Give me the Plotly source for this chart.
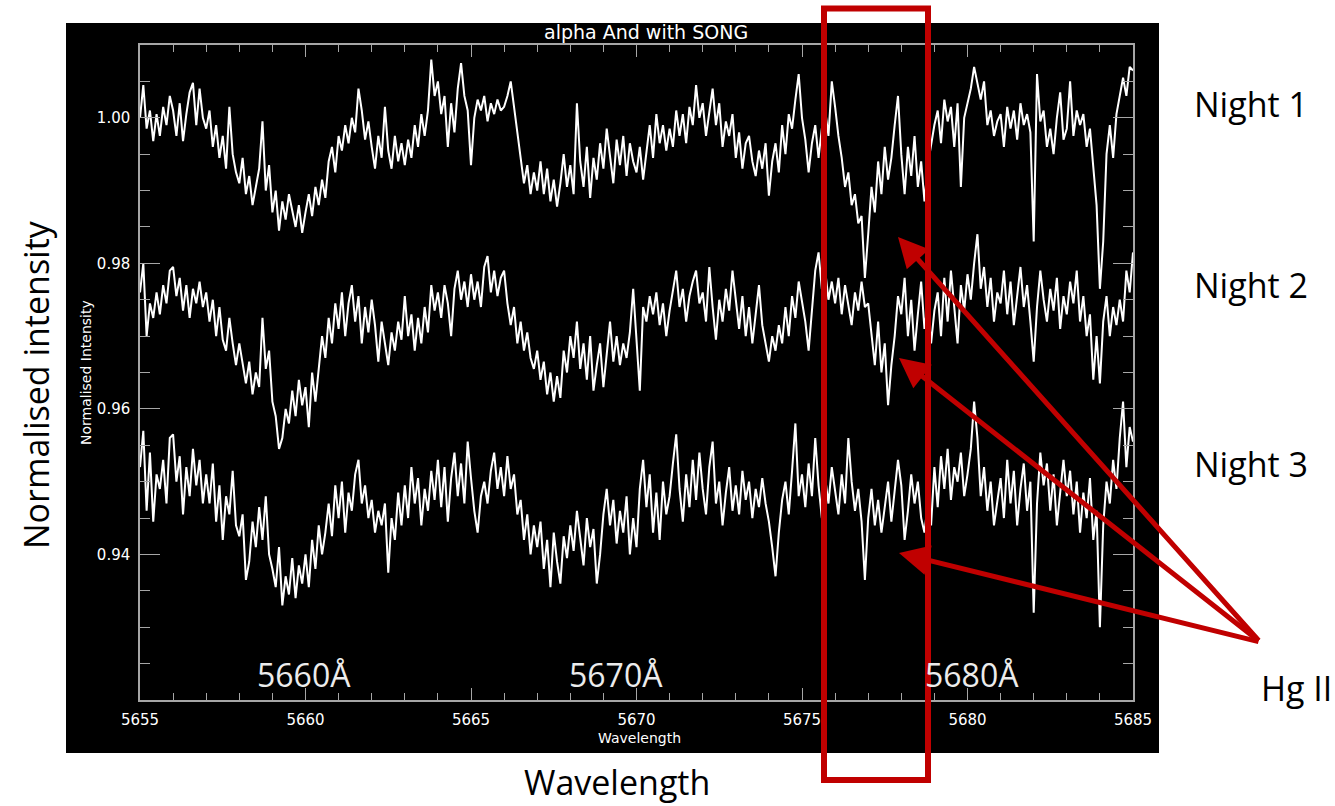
import numpy as np
import plotly.graph_objects as go

W, H = 1335, 806

# ---------------- data ----------------
wl_start, wl_stop, wl_step = 5655.0, 5685.0, 0.1
wavelength = np.round(np.arange(wl_start, wl_stop + wl_step / 2, wl_step), 1)

night1 = [
    1.0000, 1.0045, 0.9985, 1.0010, 0.9968, 1.0005, 0.9975, 1.0015, 0.9990, 1.0030,
    1.0010, 0.9975, 1.0020, 0.9968, 1.0005, 1.0035, 1.0048, 0.9990, 1.0040, 1.0000,
    0.9985, 1.0010, 0.9960, 0.9990, 0.9945, 0.9975, 0.9930, 1.0015, 0.9950, 0.9925,
    0.9910, 0.9945, 0.9895, 0.9920, 0.9880, 0.9905, 0.9930, 0.9995, 0.9900, 0.9935,
    0.9870, 0.9900, 0.9845, 0.9885, 0.9860, 0.9895, 0.9870, 0.9850, 0.9880, 0.9842,
    0.9870, 0.9895, 0.9865, 0.9905, 0.9880, 0.9915, 0.9890, 0.9940, 0.9960, 0.9925,
    0.9975, 0.9955, 0.9990, 0.9965, 1.0000, 0.9980, 1.0040, 1.0010, 0.9970, 0.9995,
    0.9960, 0.9930, 0.9975, 0.9945, 1.0015, 0.9955, 0.9930, 0.9975, 0.9940, 0.9965,
    0.9935, 0.9970, 0.9945, 0.9990, 0.9960, 1.0005, 0.9975, 1.0010, 1.0080, 1.0030,
    1.0050, 1.0005, 1.0030, 0.9960, 1.0020, 0.9980, 1.0040, 1.0075, 1.0030, 1.0010,
    0.9935, 1.0000, 1.0025, 1.0010, 1.0030, 0.9995, 1.0020, 1.0005, 1.0025, 1.0010,
    1.0015, 1.0030, 1.0050, 1.0015, 0.9985, 0.9950, 0.9910, 0.9935, 0.9895, 0.9925,
    0.9900, 0.9940, 0.9895, 0.9930, 0.9885, 0.9915, 0.9878, 0.9910, 0.9950, 0.9905,
    0.9935, 0.9895, 1.0020, 0.9940, 0.9905, 0.9960, 0.9890, 0.9945, 0.9915, 0.9965,
    0.9930, 0.9985, 0.9950, 0.9910, 0.9970, 0.9935, 0.9975, 0.9920, 0.9965, 0.9940,
    0.9925, 0.9960, 0.9915, 0.9955, 0.9990, 0.9945, 1.0005, 0.9965, 0.9990, 0.9955,
    0.9985, 0.9960, 1.0010, 0.9975, 1.0005, 0.9965, 1.0015, 0.9990, 1.0045, 1.0000,
    1.0020, 0.9975, 1.0010, 1.0040, 0.9990, 1.0020, 0.9960, 0.9995, 0.9975, 1.0005,
    0.9945, 0.9980, 0.9930, 0.9965, 0.9975, 0.9940, 0.9920, 0.9955, 0.9930, 0.9965,
    0.9893, 0.9940, 0.9965, 0.9925, 0.9990, 0.9950, 1.0005, 0.9985, 1.0025, 1.0060,
    1.0000, 0.9970, 0.9925, 0.9965, 0.9990, 0.9945, 0.9985, 1.0010, 0.9975, 1.0050,
    1.0015, 0.9975, 0.9945, 0.9905, 0.9925, 0.9880, 0.9895, 0.9855, 0.9865, 0.9780,
    0.9840, 0.9905, 0.9870, 0.9940, 0.9895, 0.9960, 0.9915, 0.9945, 0.9990, 1.0030,
    0.9950, 0.9895, 0.9960, 0.9920, 0.9975, 0.9905, 0.9940, 0.9885, 0.9935, 0.9965,
    0.9990, 1.0010, 0.9965, 1.0025, 0.9995, 1.0015, 0.9960, 1.0020, 0.9905, 1.0000,
    1.0020, 1.0040, 1.0070, 1.0045, 1.0025, 1.0050, 0.9990, 1.0010, 0.9975, 0.9995,
    1.0005, 0.9960, 1.0015, 0.9985, 1.0010, 0.9970, 1.0020, 0.9990, 1.0005, 0.9980,
    0.9830, 1.0060, 0.9995, 1.0010, 0.9960, 0.9985, 0.9950, 1.0000, 1.0035, 0.9970,
    0.9985, 1.0050, 0.9975, 1.0010, 0.9990, 1.0005, 0.9960, 0.9985, 0.9930, 0.9880,
    0.9765, 0.9830, 0.9950, 0.9990, 0.9945, 1.0005, 1.0030, 1.0055, 1.0030, 1.0070,
    1.0065,
]

night2 = [
    0.9760, 0.9800, 0.9700, 0.9745, 0.9725, 0.9760, 0.9730, 0.9770, 0.9745, 0.9790,
    0.9795, 0.9755, 0.9780, 0.9735, 0.9770, 0.9725, 0.9765, 0.9745, 0.9775, 0.9740,
    0.9760, 0.9720, 0.9750, 0.9700, 0.9740, 0.9695, 0.9680, 0.9725, 0.9690, 0.9660,
    0.9690, 0.9660, 0.9635, 0.9665, 0.9620, 0.9650, 0.9630, 0.9725, 0.9655, 0.9680,
    0.9610, 0.9590, 0.9545, 0.9560, 0.9600, 0.9580, 0.9625, 0.9590, 0.9640, 0.9605,
    0.9630, 0.9575, 0.9650, 0.9610, 0.9660, 0.9700, 0.9670, 0.9725, 0.9690, 0.9745,
    0.9710, 0.9760, 0.9700, 0.9745, 0.9770, 0.9720, 0.9755, 0.9690, 0.9740, 0.9705,
    0.9750, 0.9715, 0.9665, 0.9720, 0.9690, 0.9660, 0.9705, 0.9680, 0.9720, 0.9695,
    0.9755, 0.9700, 0.9730, 0.9680, 0.9725, 0.9690, 0.9740, 0.9705, 0.9770, 0.9735,
    0.9760, 0.9725, 0.9770, 0.9745, 0.9700, 0.9765, 0.9790, 0.9750, 0.9775, 0.9740,
    0.9785, 0.9750, 0.9775, 0.9740, 0.9795, 0.9810, 0.9760, 0.9790, 0.9755, 0.9780,
    0.9790, 0.9745, 0.9715, 0.9740, 0.9690, 0.9720, 0.9680, 0.9705, 0.9670, 0.9655,
    0.9680, 0.9640, 0.9665, 0.9620, 0.9650, 0.9610, 0.9645, 0.9615, 0.9680, 0.9650,
    0.9700, 0.9670, 0.9720, 0.9655, 0.9690, 0.9640, 0.9700, 0.9625, 0.9660, 0.9690,
    0.9630, 0.9680, 0.9720, 0.9665, 0.9700, 0.9660, 0.9690, 0.9670, 0.9705, 0.9765,
    0.9700, 0.9625, 0.9740, 0.9720, 0.9755, 0.9730, 0.9760, 0.9715, 0.9745, 0.9700,
    0.9735, 0.9760, 0.9790, 0.9740, 0.9765, 0.9720, 0.9755, 0.9775, 0.9790, 0.9745,
    0.9760, 0.9720, 0.9795, 0.9740, 0.9695, 0.9750, 0.9720, 0.9765, 0.9735, 0.9790,
    0.9745, 0.9710, 0.9755, 0.9700, 0.9740, 0.9690, 0.9730, 0.9770, 0.9715, 0.9690,
    0.9665, 0.9700, 0.9680, 0.9715, 0.9690, 0.9740, 0.9700, 0.9755, 0.9725, 0.9775,
    0.9745, 0.9720, 0.9680, 0.9730, 0.9790, 0.9815, 0.9765, 0.9790, 0.9750, 0.9775,
    0.9745, 0.9780, 0.9730, 0.9770, 0.9740, 0.9715, 0.9760, 0.9735, 0.9775, 0.9740,
    0.9745, 0.9700, 0.9660, 0.9720, 0.9650, 0.9690, 0.9605, 0.9660, 0.9700, 0.9755,
    0.9730, 0.9780, 0.9700, 0.9750, 0.9680, 0.9730, 0.9775, 0.9710, 0.9745, 0.9690,
    0.9735, 0.9760, 0.9700, 0.9780, 0.9720, 0.9790, 0.9745, 0.9690, 0.9770, 0.9735,
    0.9785, 0.9750, 0.9800, 0.9840, 0.9765, 0.9795, 0.9740, 0.9780, 0.9720, 0.9760,
    0.9745, 0.9790, 0.9730, 0.9775, 0.9715, 0.9760, 0.9795, 0.9740, 0.9770, 0.9720,
    0.9665, 0.9740, 0.9790, 0.9750, 0.9720, 0.9765, 0.9735, 0.9780, 0.9710, 0.9755,
    0.9730, 0.9775, 0.9745, 0.9790, 0.9720, 0.9755, 0.9700, 0.9730, 0.9640, 0.9700,
    0.9635, 0.9720, 0.9755, 0.9700, 0.9740, 0.9715, 0.9750, 0.9720, 0.9790, 0.9760,
    0.9815,
]

night3 = [
    0.9520, 0.9570, 0.9460, 0.9540, 0.9445, 0.9510, 0.9490, 0.9530, 0.9470, 0.9560,
    0.9565, 0.9500, 0.9535, 0.9455, 0.9520, 0.9480, 0.9545, 0.9495, 0.9530, 0.9470,
    0.9510, 0.9470, 0.9525, 0.9445, 0.9495, 0.9420, 0.9480, 0.9455, 0.9515, 0.9440,
    0.9425, 0.9455, 0.9365, 0.9390, 0.9445, 0.9410, 0.9465, 0.9420, 0.9480, 0.9400,
    0.9380, 0.9355, 0.9410, 0.9330, 0.9370, 0.9345, 0.9395, 0.9340, 0.9385, 0.9360,
    0.9400, 0.9355, 0.9420, 0.9380, 0.9440, 0.9400, 0.9430, 0.9470, 0.9425, 0.9495,
    0.9450, 0.9500, 0.9430, 0.9485, 0.9460, 0.9510, 0.9530, 0.9470, 0.9495, 0.9450,
    0.9475, 0.9430, 0.9460, 0.9440, 0.9470, 0.9375, 0.9450, 0.9420, 0.9485, 0.9440,
    0.9495, 0.9450, 0.9520, 0.9470, 0.9505, 0.9440, 0.9490, 0.9460, 0.9515, 0.9475,
    0.9530, 0.9465, 0.9520, 0.9445, 0.9505, 0.9540, 0.9480, 0.9525, 0.9470, 0.9555,
    0.9505, 0.9460, 0.9430, 0.9480, 0.9500, 0.9470, 0.9515, 0.9540, 0.9490, 0.9520,
    0.9480, 0.9535, 0.9490, 0.9510, 0.9455, 0.9475, 0.9420, 0.9455, 0.9400, 0.9440,
    0.9410, 0.9445, 0.9380, 0.9420, 0.9355, 0.9430, 0.9390, 0.9360, 0.9425, 0.9395,
    0.9440, 0.9405, 0.9460, 0.9420, 0.9385, 0.9450, 0.9410, 0.9435, 0.9360, 0.9400,
    0.9455, 0.9490, 0.9440, 0.9475, 0.9415, 0.9460, 0.9430, 0.9480, 0.9400, 0.9450,
    0.9410, 0.9490, 0.9530, 0.9465, 0.9510, 0.9430, 0.9485, 0.9420, 0.9500, 0.9455,
    0.9480, 0.9525, 0.9565, 0.9490, 0.9445, 0.9510, 0.9465, 0.9530, 0.9475, 0.9540,
    0.9490, 0.9455, 0.9520, 0.9555, 0.9470, 0.9500, 0.9440, 0.9485, 0.9520, 0.9460,
    0.9495, 0.9455, 0.9515, 0.9475, 0.9500, 0.9450, 0.9490, 0.9465, 0.9505, 0.9470,
    0.9445, 0.9410, 0.9370, 0.9430, 0.9475, 0.9500, 0.9455, 0.9515, 0.9580, 0.9480,
    0.9510, 0.9465, 0.9525, 0.9480, 0.9560, 0.9495, 0.9450, 0.9505, 0.9470, 0.9520,
    0.9490, 0.9455, 0.9510, 0.9470, 0.9560, 0.9500, 0.9460, 0.9490, 0.9445, 0.9365,
    0.9450, 0.9490, 0.9440, 0.9475, 0.9430, 0.9465, 0.9500, 0.9445, 0.9485, 0.9530,
    0.9495, 0.9420, 0.9460, 0.9510, 0.9470, 0.9500, 0.9450, 0.9430, 0.9470, 0.9440,
    0.9520, 0.9465, 0.9535, 0.9490, 0.9545, 0.9475, 0.9520, 0.9500, 0.9540, 0.9480,
    0.9510, 0.9545, 0.9610, 0.9560, 0.9480, 0.9520, 0.9460, 0.9500, 0.9440, 0.9475,
    0.9505, 0.9450, 0.9530, 0.9470, 0.9515, 0.9440, 0.9490, 0.9525, 0.9460, 0.9500,
    0.9320, 0.9470, 0.9540, 0.9495, 0.9525, 0.9460, 0.9510, 0.9440, 0.9490, 0.9530,
    0.9480, 0.9515, 0.9455, 0.9500, 0.9430, 0.9485, 0.9450, 0.9505, 0.9420, 0.9460,
    0.9300, 0.9440, 0.9500, 0.9470, 0.9530, 0.9490, 0.9560, 0.9610, 0.9520, 0.9575,
    0.9555,
]

x_ticks = [5655, 5660, 5665, 5670, 5675, 5680, 5685]
y_ticks = [0.94, 0.96, 0.98, 1.00]
y_ticktext = ["0.94", "0.96", "0.98", "1.00"]
night_labels = ["Night 1", "Night 2", "Night 3"]
inside_labels = ["5660Å", "5670Å", "5680Å"]
title_text = "alpha And with SONG"


def px(x):
    return x / W


def py(y):
    return 1 - y / H


fig = go.Figure()
for series in (night1, night2, night3):
    fig.add_trace(go.Scatter(
        x=wavelength, y=series, mode="lines",
        line=dict(color="white", width=2), showlegend=False, hoverinfo="skip",
    ))

axis_col = "#a6a6a6"
tick_font = dict(family="DejaVu Sans", size=15, color="white")

fig.update_layout(
    width=W, height=H,
    margin=dict(l=0, r=0, t=0, b=0, pad=0, autoexpand=False),
    paper_bgcolor="white",
    plot_bgcolor="black",
    showlegend=False,
    xaxis=dict(
        domain=[px(140), px(1133)], range=[5655, 5685], automargin=False,
        tickmode="array", tickvals=x_ticks, ticktext=[str(v) for v in x_ticks],
        ticks="inside", ticklen=12, tickwidth=1.2, tickcolor=axis_col,
        showline=True, linecolor=axis_col, linewidth=1.5, mirror="allticks",
        showgrid=False, zeroline=False, tickfont=tick_font, ticklabelstandoff=5,
        minor=dict(tickmode="linear", tick0=5655, dtick=1, ticks="inside",
                   ticklen=7, tickcolor=axis_col, tickwidth=1.2, showgrid=False),
    ),
    yaxis=dict(
        domain=[py(700), py(45)], range=[0.92, 1.01], automargin=False,
        tickmode="array", tickvals=y_ticks, ticktext=y_ticktext,
        ticks="inside", ticklen=20, tickwidth=1.2, tickcolor=axis_col,
        showline=True, linecolor=axis_col, linewidth=1.5, mirror="allticks",
        showgrid=False, zeroline=False, tickfont=tick_font, ticklabelstandoff=5,
        minor=dict(tickmode="linear", tick0=0.92, dtick=0.005, ticks="inside",
                   ticklen=10, tickcolor=axis_col, tickwidth=1.2, showgrid=False),
    ),
)

shapes = [
    dict(type="rect", xref="paper", yref="paper", x0=px(66), x1=px(1159),
         y0=py(753), y1=py(23), fillcolor="black", line=dict(width=0), layer="below"),
    dict(type="rect", xref="paper", yref="paper", x0=px(824), x1=px(928),
         y0=py(780), y1=py(8.5), line=dict(color="#C00000", width=6),
         fillcolor="rgba(0,0,0,0)", layer="above"),
]
fig.update_layout(shapes=shapes)

ann = []
# inner IDL-style texts
ann.append(dict(text=title_text, x=px(646), y=py(32), xref="paper", yref="paper",
                showarrow=False, font=dict(family="DejaVu Sans", size=19, color="white"),
                xanchor="center", yanchor="middle"))
ann.append(dict(text="Wavelength", x=px(639), y=py(738), xref="paper", yref="paper",
                showarrow=False, font=dict(family="DejaVu Sans", size=14, color="white"),
                xanchor="center", yanchor="middle"))
ann.append(dict(text="Normalised Intensity", x=px(86), y=py(373), xref="paper", yref="paper",
                showarrow=False, textangle=-90,
                font=dict(family="DejaVu Sans", size=14, color="white"),
                xanchor="center", yanchor="middle"))
# large inner wavelength labels
for label, cx in zip(inside_labels, [304, 616, 972]):
    ann.append(dict(text=label, x=px(cx), y=py(674), xref="paper", yref="paper",
                    showarrow=False, font=dict(family="Open Sans", size=32, color="#ececec"),
                    xanchor="center", yanchor="middle"))
# outer slide labels
big = dict(family="Open Sans", size=34, color="black")
ann.append(dict(text="Normalised intensity", x=px(36), y=py(385), xref="paper", yref="paper",
                showarrow=False, textangle=-90, font=big, xanchor="center", yanchor="middle"))
ann.append(dict(text="Wavelength", x=px(617), y=py(782), xref="paper", yref="paper",
                showarrow=False, font=big, xanchor="center", yanchor="middle"))
for label, cy in zip(night_labels, [104, 285, 464]):
    ann.append(dict(text=label, x=px(1251), y=py(cy), xref="paper", yref="paper",
                    showarrow=False, font=big, xanchor="center", yanchor="middle"))
ann.append(dict(text="Hg II", x=px(1296), y=py(688), xref="paper", yref="paper",
                showarrow=False, font=big, xanchor="center", yanchor="middle"))
# red arrows
tail = (1260, 642)
for tip in [(898, 237), (899, 358), (899, 553)]:
    ann.append(dict(text="", x=px(tip[0]), y=py(tip[1]), xref="paper", yref="paper",
                    ax=tail[0] - tip[0], ay=tail[1] - tip[1], axref="pixel", ayref="pixel",
                    showarrow=True, arrowhead=2, arrowsize=1.2, arrowwidth=5,
                    arrowcolor="#C00000", standoff=0, startstandoff=0))
fig.update_layout(annotations=ann)

fig.write_html("out.html")
